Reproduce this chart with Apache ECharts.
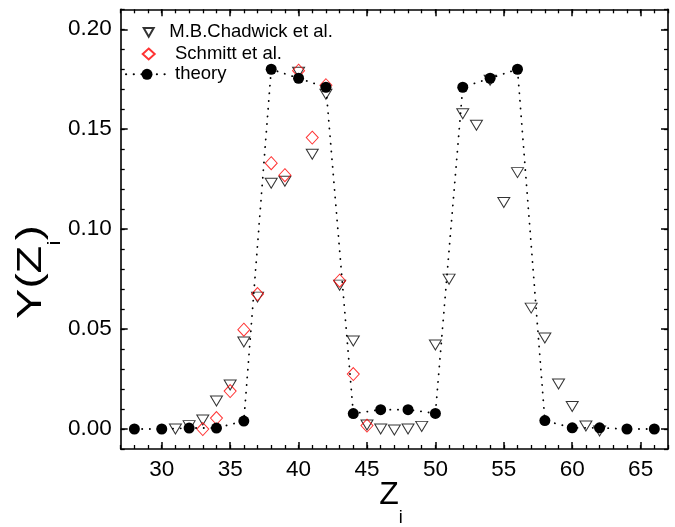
<!DOCTYPE html>
<html>
<head>
<meta charset="utf-8">
<script src="https://cdn.jsdelivr.net/npm/echarts@6/dist/echarts.min.js"></script>
<style>
  html, body { margin: 0; padding: 0; background: #ffffff; }
  #chart { width: 675px; height: 527px; }
</style>
</head>
<body>
<div id="chart"></div>
<script>
// Fragment charge Z and yield Y(Z) — theory curve and two measured sets
const zTheory = [28, 30, 32, 34, 36, 38, 40, 42, 44, 46, 48, 50, 52, 54, 56, 58, 60, 62, 64, 66];
const yTheory = [0.000, 0.000, 0.0005, 0.0005, 0.004, 0.180, 0.1755, 0.171, 0.0077, 0.0097,
                 0.0097, 0.0078, 0.171, 0.1755, 0.180, 0.0042, 0.0006, 0.0006, 0.000, 0.000];

const zChadwick = [31, 32, 33, 34, 35, 36, 37, 38, 39, 40, 41, 42, 43, 44, 45, 46,
                   47, 48, 49, 50, 51, 52, 53, 54, 55, 56, 57, 58, 59, 60, 61, 62];
const yChadwick = [0.000, 0.0017, 0.0045, 0.014, 0.022, 0.0435, 0.066, 0.123, 0.124, 0.1785,
                   0.1375, 0.1675, 0.072, 0.044, 0.002, 0.000, -0.0005, 0.000, 0.0013, 0.042,
                   0.075, 0.1577, 0.152, 0.1745, 0.1133, 0.1283, 0.0605, 0.0455, 0.0225, 0.0113,
                   0.0015, -0.001];

const zSchmitt = [33, 34, 35, 36, 37, 38, 39, 40, 41, 42, 43, 44, 45];
const ySchmitt = [0.000, 0.0055, 0.019, 0.0497, 0.0675, 0.133, 0.127, 0.1793, 0.1458, 0.172,
                  0.0742, 0.0275, 0.0017];

const seriesNames = ['M.B.Chadwick et al.', 'Schmitt et al.', 'theory'];

const xTickLabels = ['30', '35', '40', '45', '50', '55', '60', '65'];
const yTickLabels = ['0.00', '0.05', '0.10', '0.15', '0.20'];
const xRange = [27, 67];
const yRange = [-0.01, 0.21];

const FONT = "'Liberation Sans', Arial, Helvetica, sans-serif";

// category positions, one per minor step, used to place the major ticks and labels
const xCats = [];
for (let z = xRange[0]; z <= xRange[1]; z++) xCats.push(String(z));
const yCats = [];
for (let k = Math.round(yRange[0] * 100); k <= Math.round(yRange[1] * 100); k++) {
  yCats.push((k / 100).toFixed(2));
}

const pairs = (xs, ys) => xs.map((x, i) => [x, ys[i]]);

const lineStyle = { color: '#000', width: 1.6 };
const downTriangle = 'path://M0,0 L10,0 L5,8.66 Z';

function minorAxis(pos, range, step, showLine) {
  return {
    type: 'value', position: pos, min: range[0], max: range[1], interval: step,
    axisLine: { show: showLine, onZero: false, lineStyle: lineStyle },
    axisTick: { show: true, inside: true, length: 4, lineStyle: { color: '#000', width: 1.3 } },
    axisLabel: { show: false },
    splitLine: { show: false }
  };
}

function majorAxis(pos, cats, labels, showLabels) {
  const keep = (idx, val) => labels.indexOf(val) >= 0;
  return {
    type: 'category', position: pos, data: cats, boundaryGap: false,
    axisLine: { show: false, onZero: false },
    axisTick: { show: true, inside: true, length: 7, interval: keep,
                lineStyle: { color: '#000', width: 1.5 } },
    axisLabel: { show: showLabels, interval: keep, margin: 9,
                 fontFamily: FONT, fontSize: 22.5, color: '#000' },
    splitLine: { show: false }
  };
}

const titleRich = (big, small, drop) => ({
  a: { fontFamily: FONT, fontSize: big, lineHeight: big, verticalAlign: 'top', fill: '#000' },
  b: { fontFamily: FONT, fontSize: small, lineHeight: small, verticalAlign: 'top',
       padding: [drop, 0, 0, 0], fill: '#000' }
});

const chart = echarts.init(document.getElementById('chart'), null, { renderer: 'canvas' });

chart.setOption({
  animation: false,
  backgroundColor: '#ffffff',
  grid: { left: 120.7, right: 7, top: 9.3, bottom: 78, containLabel: false },
  xAxis: [
    minorAxis('bottom', xRange, 1, true),
    majorAxis('bottom', xCats, xTickLabels, true),
    minorAxis('top', xRange, 1, true),
    majorAxis('top', xCats, xTickLabels, false)
  ],
  yAxis: [
    minorAxis('left', yRange, 0.01, true),
    majorAxis('left', yCats, yTickLabels, true),
    minorAxis('right', yRange, 0.01, true),
    majorAxis('right', yCats, yTickLabels, false)
  ],
  legend: [
    {
      data: [{ name: seriesNames[0], icon: downTriangle }],
      left: 142.7, top: 22.8, padding: 0, itemWidth: 10, itemHeight: 9,
      selectedMode: false,
      textStyle: { fontFamily: FONT, fontSize: 18.5, color: '#000', padding: [0, 0, 0, 10.6] }
    },
    {
      data: [{ name: seriesNames[1], icon: 'diamond' }],
      left: 141.7, top: 44.5, padding: 0, itemWidth: 12, itemHeight: 11,
      selectedMode: false,
      textStyle: { fontFamily: FONT, fontSize: 18.5, color: '#000', padding: [0, 0, 0, 15.3] }
    },
    {
      data: [seriesNames[2]],
      left: 125, top: 64.8, padding: 0, itemWidth: 42, itemHeight: 13.75,
      selectedMode: false,
      textStyle: { fontFamily: FONT, fontSize: 18.5, color: '#000', padding: [0, 0, 0, 2] }
    }
  ],
  graphic: [
    {
      type: 'text', x: 391, y: 495,
      style: {
        text: '{a|Z}{b|i}', align: 'center', verticalAlign: 'middle', fill: '#000',
        rich: titleRich(32, 18, 30)
      }
    },
    {
      type: 'text', x: 31, y: 272, rotation: Math.PI / 2, scaleX: 1.3,
      style: {
        text: '{a|Y(Z}{b|i}{a|)}', align: 'center', verticalAlign: 'middle', fill: '#000',
        rich: titleRich(35, 19, 32)
      }
    }
  ],
  series: [
    {
      name: seriesNames[0], type: 'scatter', xAxisIndex: 0, yAxisIndex: 0,
      data: pairs(zChadwick, yChadwick),
      symbol: downTriangle, symbolSize: [12, 10], symbolKeepAspect: false,
      itemStyle: { color: 'rgba(0,0,0,0)', borderColor: '#000', borderWidth: 1 },
      emphasis: { disabled: true }, z: 2
    },
    {
      name: seriesNames[1], type: 'scatter', xAxisIndex: 0, yAxisIndex: 0,
      data: pairs(zSchmitt, ySchmitt),
      symbol: 'diamond', symbolSize: [12, 13],
      itemStyle: { color: 'rgba(0,0,0,0)', borderColor: '#ff0000', borderWidth: 1 },
      emphasis: { disabled: true }, z: 3
    },
    {
      name: seriesNames[2], type: 'line', xAxisIndex: 0, yAxisIndex: 0,
      data: pairs(zTheory, yTheory),
      symbol: 'circle', symbolSize: 11, showSymbol: true,
      itemStyle: { color: '#000', borderColor: '#000', borderWidth: 0 },
      lineStyle: { color: '#000', width: 1.8, type: [0.2, 7.5], cap: 'round' },
      emphasis: { disabled: true }, z: 4
    }
  ]
});
</script>
</body>
</html>
